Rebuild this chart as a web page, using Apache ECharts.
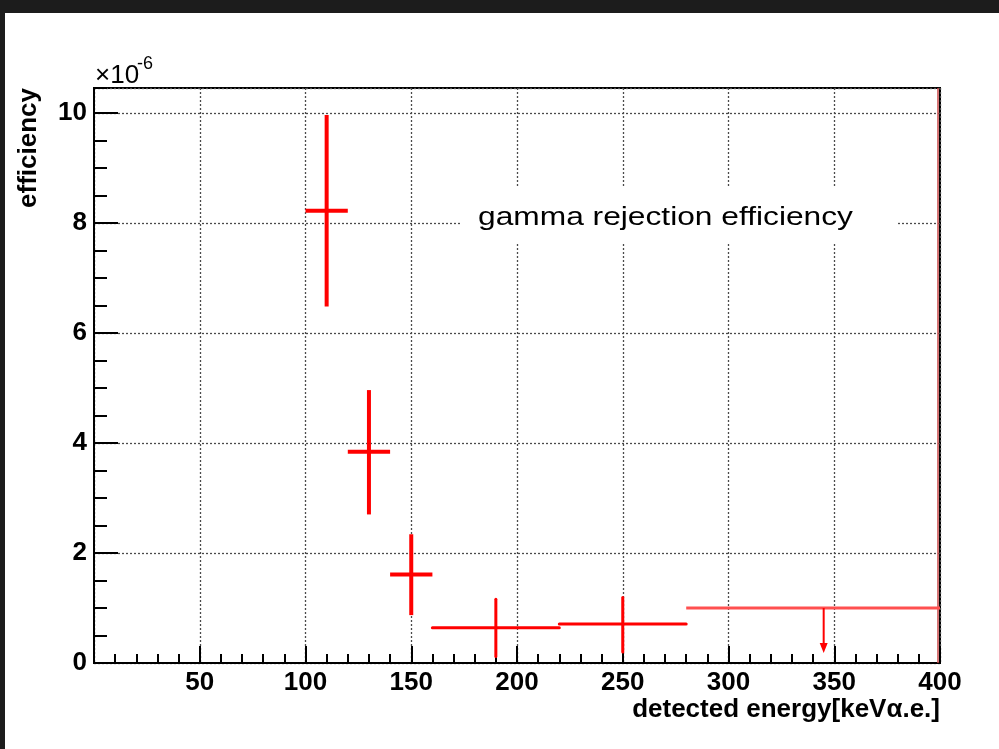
<!DOCTYPE html>
<html>
<head>
<meta charset="utf-8">
<script src="https://cdn.jsdelivr.net/npm/echarts@6/dist/echarts.min.js"></script>
<style>
  html, body { margin: 0; padding: 0; width: 999px; height: 749px; overflow: hidden; background: #1c1c1c; }
  #chart { position: absolute; left: 5px; top: 13px; width: 994px; height: 736px; background: #ffffff; }
</style>
</head>
<body>
<div id="chart"></div>
<script>
// Measured gamma rejection efficiency per detected-energy bin (units of 1e-6)
const binLow     = [100, 120, 140, 160, 220];
const binHigh    = [120, 140, 160, 220, 280];
const binCenter  = [110, 130, 150, 190, 250];
const efficiency = [8.22, 3.84, 1.61, 0.64, 0.71];
const errLow     = [6.48, 2.70, 0.87, 0.12, 0.20];
const errHigh    = [9.96, 4.96, 2.34, 1.16, 1.19];

// Last bin only gives an upper limit
const limitBin   = [280, 400];
const limitValue = 1.0;
const limitArrowX = 345;
const limitArrowTip = 0.18;

// Axis ticks
const xTicks = [0, 50, 100, 150, 200, 250, 300, 350, 400];
const yTicks = [0, 2, 4, 6, 8, 10];

const FONT = "'Liberation Sans', Arial, Helvetica, sans-serif";
const RED = '#ff0000';
const LIMIT_RED = '#ff5050';
const gridDots = { color: '#4a4a4a', width: 1.3, type: [2, 2] };

const chart = echarts.init(document.getElementById('chart'), null, { renderer: 'canvas' });

const pointData = binCenter.map((x, i) => [x, binLow[i], binHigh[i], efficiency[i], errLow[i], errHigh[i]]);
const limitData = [[limitBin[0], limitBin[1], limitValue, limitArrowX, limitArrowTip]];

const yMax = 10.45;

chart.setOption({
  animation: false,
  backgroundColor: '#ffffff',
  grid: {
    left: 89, top: 75, right: 59, bottom: 86,
    show: true, borderColor: '#000', borderWidth: 2, backgroundColor: '#fff'
  },
  xAxis: {
    type: 'value',
    min: xTicks[0], max: xTicks[xTicks.length - 1], interval: xTicks[1] - xTicks[0],
    axisLine: { show: true, onZero: false, lineStyle: { color: '#000', width: 2 } },
    axisTick: { show: true, inside: true, length: 17, lineStyle: { color: '#000', width: 2 } },
    minorTick: { show: true, splitNumber: 5, length: 9, lineStyle: { color: '#000', width: 2 } },
    axisLabel: {
      showMinLabel: false, margin: 7, color: '#000',
      fontFamily: FONT, fontWeight: 'bold', fontSize: 26
    },
    splitLine: { show: true, lineStyle: gridDots }
  },
  yAxis: [
    {
      type: 'value', min: yTicks[0], max: yMax, interval: yTicks[1] - yTicks[0],
      axisLine: { show: true, onZero: false, lineStyle: { color: '#000', width: 2 } },
      axisTick: { show: true, inside: true, length: 24, lineStyle: { color: '#000', width: 2 } },
      axisLabel: {
        showMaxLabel: false, margin: 7, color: '#000',
        fontFamily: FONT, fontWeight: 'bold', fontSize: 26,
        formatter: v => (yTicks.indexOf(v) >= 0 ? String(v) : '')
      },
      splitLine: { show: true, lineStyle: gridDots }
    },
    {
      // minor ticks of the efficiency axis
      type: 'value', min: yTicks[0], max: yMax, interval: 0.5, position: 'left',
      axisLine: { show: false },
      axisTick: { show: true, inside: true, length: 13, lineStyle: { color: '#000', width: 2 } },
      axisLabel: { show: false },
      splitLine: { show: false }
    }
  ],
  graphic: [
    {
      type: 'rect', z: 10,
      shape: { x: 455, y: 174, width: 436, height: 56 },
      style: { fill: '#fff' }
    },
    {
      type: 'text', z: 11, x: 473, y: 205, scaleX: 1.22, scaleY: 1,
      style: {
        text: 'gamma rejection efficiency', fill: '#000',
        font: '26px ' + FONT, textAlign: 'left', textVerticalAlign: 'middle'
      }
    },
    {
      type: 'text', z: 11, x: 24, y: 75, rotation: Math.PI / 2,
      style: {
        text: 'efficiency', fill: '#000',
        font: 'bold 26px ' + FONT, textAlign: 'right', textVerticalAlign: 'middle'
      }
    },
    {
      type: 'text', z: 11, x: 935, y: 697,
      style: {
        text: 'detected energy[keV\u03B1.e.]', fill: '#000',
        font: 'bold 26px ' + FONT, textAlign: 'right', textVerticalAlign: 'middle'
      }
    },
    {
      type: 'text', z: 11, x: 90, y: 63,
      style: {
        text: '\u00D710', fill: '#000',
        font: '26px ' + FONT, textAlign: 'left', textVerticalAlign: 'middle'
      }
    },
    {
      type: 'text', z: 11, x: 132, y: 51,
      style: {
        text: '-6', fill: '#000',
        font: '18px ' + FONT, textAlign: 'left', textVerticalAlign: 'middle'
      }
    }
  ],
  series: [
    {
      type: 'custom',
      z: 5,
      xAxisIndex: 0, yAxisIndex: 0,
      data: pointData,
      encode: { x: [0, 1, 2], y: [3, 4, 5] },
      renderItem: function (params, api) {
        const i = params.dataIndex;
        const xc = api.value(0), xl = api.value(1), xr = api.value(2);
        const y = api.value(3), yl = api.value(4), yh = api.value(5);
        const left = api.coord([xl, y]);
        const right = api.coord([xr, y]);
        const lo = api.coord([xc, yl]);
        const hi = api.coord([xc, yh]);
        const wide = i < 3;
        const style = { stroke: RED, lineWidth: wide ? 4 : 3, lineCap: wide ? 'butt' : 'round', fill: null };
        return {
          type: 'group',
          children: [
            { type: 'line', shape: { x1: left[0], y1: left[1], x2: right[0], y2: right[1] }, style: style },
            { type: 'line', shape: { x1: lo[0], y1: lo[1], x2: hi[0], y2: hi[1] }, style: style }
          ]
        };
      }
    },
    {
      type: 'custom',
      z: 5,
      xAxisIndex: 0, yAxisIndex: 0,
      data: limitData,
      encode: { x: [0, 1, 3], y: [2, 4] },
      renderItem: function (params, api) {
        const a = api.coord([api.value(0), api.value(2)]);
        const b = api.coord([api.value(1), api.value(2)]);
        const top = api.coord([api.value(3), api.value(2)]);
        const tip = api.coord([api.value(3), api.value(4)]);
        // histogram outline edges along the frame
        const edgeBottom = api.coord([api.value(1), 0]);
        const edgeTop = api.coord([api.value(1), yMax]);
        const head = 10, half = 4;
        return {
          type: 'group',
          children: [
            { type: 'line', shape: { x1: edgeBottom[0] - 2, y1: edgeBottom[1], x2: edgeTop[0] - 2, y2: edgeTop[1] },
              style: { stroke: '#c84848', lineWidth: 1.5, fill: null } },
            { type: 'line', shape: { x1: a[0], y1: a[1], x2: b[0], y2: b[1] },
              style: { stroke: LIMIT_RED, lineWidth: 3, fill: null } },
            { type: 'line', shape: { x1: top[0], y1: top[1], x2: tip[0], y2: tip[1] - head + 1 },
              style: { stroke: RED, lineWidth: 2, fill: null } },
            { type: 'polygon',
              shape: { points: [[tip[0] - half, tip[1] - head], [tip[0] + half, tip[1] - head], [tip[0], tip[1]]] },
              style: { fill: RED, stroke: null } }
          ]
        };
      }
    }
  ]
});
</script>
</body>
</html>
